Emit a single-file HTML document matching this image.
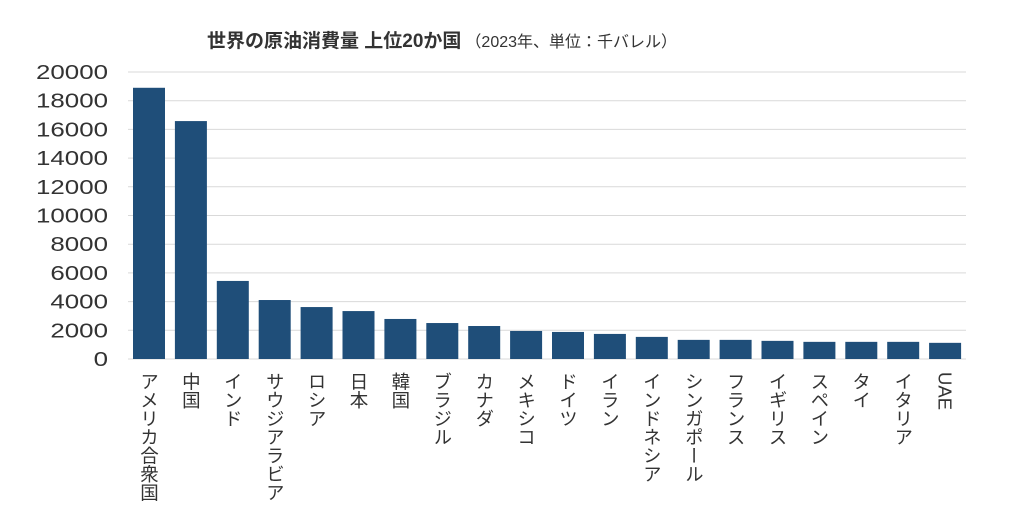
<!DOCTYPE html>
<html><head><meta charset="utf-8"><style>
body{margin:0;background:#fff;width:1024px;height:520px;overflow:hidden;font-family:"Liberation Sans","Noto Sans CJK JP",sans-serif}
</style></head><body>
<svg id="chart" width="1024" height="520" xmlns="http://www.w3.org/2000/svg">
<text x="207" y="47" font-family="'Liberation Sans','Noto Sans CJK JP',sans-serif" font-size="19" font-weight="bold" fill="#333">世界の原油消費量 上位20か国<tspan font-size="16" font-weight="normal" dx="4">（2023年、単位：千バレル）</tspan></text>
<g id="grid"></g><g id="bars"></g><g id="labels"></g>
</svg>
<script>
const categories=["アメリカ合衆国","中国","インド","サウジアラビア","ロシア","日本","韓国","ブラジル","カナダ","メキシコ","ドイツ","イラン","インドネシア","シンガポール","フランス","イギリス","スペイン","タイ","イタリア","UAE"];
const values=[18900,16580,5440,4110,3620,3340,2790,2506,2299,1954,1885,1747,1540,1333,1333,1264,1195,1195,1195,1126];
const ticks=[0,2000,4000,6000,8000,10000,12000,14000,16000,18000,20000];
const NS="http://www.w3.org/2000/svg";
const x0=128,x1=966,y0=359,yTop=72,maxV=20000;
const y=v=>y0-(y0-yTop)*v/maxV;
const step=(x1-x0)/categories.length;
const grid=document.getElementById('grid'),bars=document.getElementById('bars'),labels=document.getElementById('labels');
ticks.forEach(t=>{
 const l=document.createElementNS(NS,'line');
 
 
 l.setAttribute('x1',x0);l.setAttribute('x2',x1);l.setAttribute('y1',y(t));l.setAttribute('y2',y(t));
 l.setAttribute('stroke','#d9d9d9');l.setAttribute('stroke-width','1');grid.appendChild(l);
 const tx=document.createElementNS(NS,'text');
 
 
 const s=String(t);
 tx.setAttribute('x',108);tx.setAttribute('y',y(t)+7);tx.setAttribute('text-anchor','end');
 tx.setAttribute('textLength',s.length*14.4);tx.setAttribute('lengthAdjust','spacingAndGlyphs');
 tx.setAttribute('font-size','20');tx.setAttribute('fill','#333');tx.textContent=s;grid.appendChild(tx);
});
categories.forEach((c,i)=>{
 const bx=x0+5+i*step;
 const r=document.createElementNS(NS,'rect');
 
 
 r.setAttribute('x',bx);r.setAttribute('width',32);r.setAttribute('y',y(values[i]));r.setAttribute('height',y0-y(values[i]));
 r.setAttribute('fill','#1f4e79');bars.appendChild(r);
 const tx=document.createElementNS(NS,'text');
 
 
 tx.setAttribute('x',bx+16);tx.setAttribute('y',372);
 tx.setAttribute('font-size','18.5');tx.setAttribute('fill','#333');
 tx.setAttribute('style','writing-mode:vertical-rl;glyph-orientation-vertical:0');
 tx.textContent=c;labels.appendChild(tx);
});
</script>
</body></html>
